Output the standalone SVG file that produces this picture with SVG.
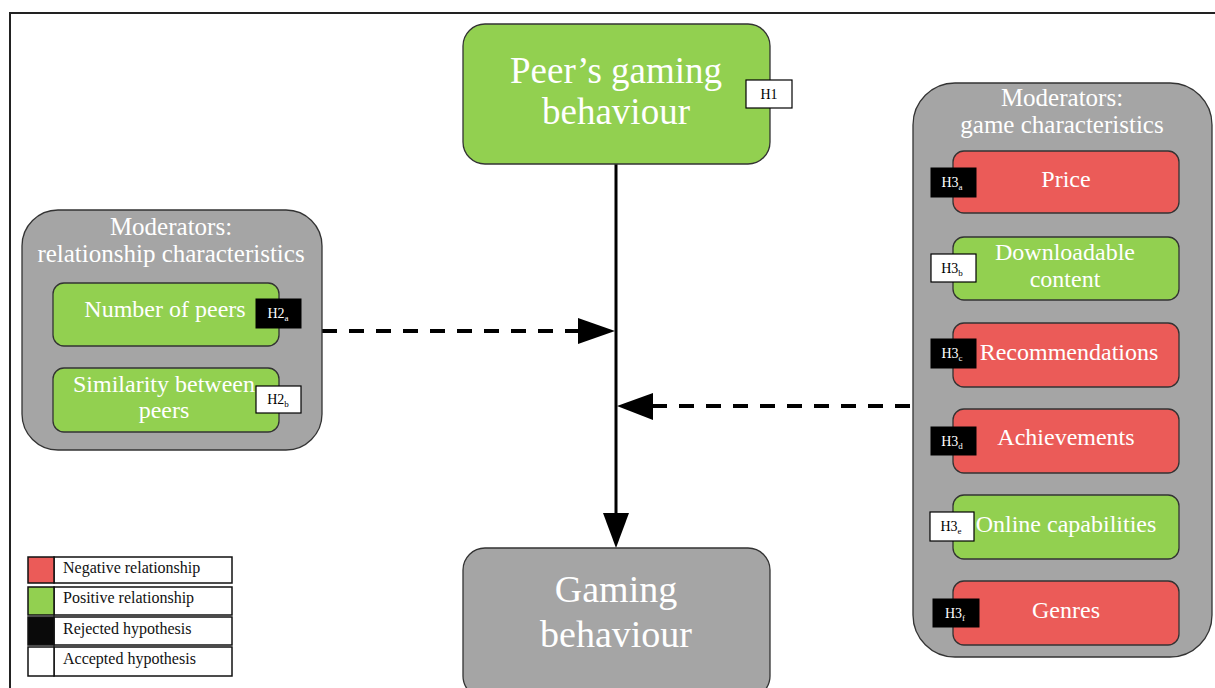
<svg xmlns="http://www.w3.org/2000/svg" width="1215" height="688" viewBox="0 0 1215 688">
<style>
text{font-family:"Liberation Serif","DejaVu Serif",serif}
.grn{fill:#92d050;stroke:#333;stroke-width:1.3}
.red{fill:#eb5b58;stroke:#333;stroke-width:1.3}
.gry{fill:#a5a5a5;stroke:#333;stroke-width:1.3}
.wt{fill:#fff;text-anchor:middle}
.n{font-size:24px}
.big{font-size:37px}
.ttl{font-size:25px}
.hb{fill:#000;stroke:#000;stroke-width:1}
.hw{fill:#fff;stroke:#000;stroke-width:1.2}
.hbt{fill:#fff;font-size:14px;text-anchor:middle}
.hwt{fill:#000;font-size:14px;text-anchor:middle}
.sub{font-size:9px}
.lg{fill:#fff;stroke:#111;stroke-width:1.5}
.lgt{font-size:16px;fill:#111}
.dash{stroke:#000;stroke-width:4;stroke-dasharray:15 12;fill:none}
</style>
<rect x="0" y="0" width="1215" height="688" fill="#fff"/>
<g id="frame" stroke="#222" stroke-width="2" fill="none">
<line x1="9" y1="13" x2="1215" y2="13"/>
<line x1="10" y1="13" x2="10" y2="688"/>
</g>
<g id="connectors">
<line x1="616" y1="164" x2="616" y2="515" stroke="#000" stroke-width="3"/>
<polygon points="603,513 629,513 616,548" fill="#000"/>
<line class="dash" x1="322" y1="331" x2="580" y2="331"/>
<polygon points="578,318 578,344 615,331" fill="#000"/>
<line class="dash" x1="910" y1="406" x2="651" y2="406"/>
<polygon points="653,393 653,420 617,406" fill="#000"/>
</g>
<g id="peer">
<rect class="grn" x="463" y="24" width="307" height="140" rx="22"/>
<text class="wt big" x="616" y="83">Peer’s gaming</text>
<text class="wt big" x="616" y="124">behaviour</text>
<rect class="hw" x="746" y="80" width="46" height="28"/>
<text class="hwt" x="769" y="99">H1</text>
</g>
<g id="gaming">
<rect class="gry" x="463" y="548" width="307" height="150" rx="22"/>
<text class="wt" style="font-size:38px" x="616" y="602">Gaming</text>
<text class="wt" style="font-size:38px" x="616" y="647">behaviour</text>
</g>
<g id="relationship">
<rect class="gry" x="22" y="210" width="300" height="240" rx="36"/>
<text class="wt ttl" x="171" y="235">Moderators:</text>
<text class="wt ttl" x="171" y="262">relationship characteristics</text>
</g>
<g id="numpeers">
<rect class="grn" x="53" y="283" width="226" height="63" rx="11"/>
<text class="wt n" x="165" y="317">Number of peers</text>
<rect class="hb" x="256" y="299" width="45" height="29"/>
<text class="hbt" x="278" y="318">H2<tspan class="sub" dy="3">a</tspan></text>
</g>
<g id="similarity">
<rect class="grn" x="53" y="368" width="226" height="64" rx="11"/>
<text class="wt n" x="164" y="392">Similarity between</text>
<text class="wt n" x="164" y="418">peers</text>
<rect class="hw" x="256" y="386" width="45" height="27"/>
<text class="hwt" x="278" y="404">H2<tspan class="sub" dy="3">b</tspan></text>
</g>
<g id="game">
<rect class="gry" x="913" y="83" width="299" height="574" rx="42"/>
<text class="wt ttl" x="1062" y="106">Moderators:</text>
<text class="wt ttl" x="1062" y="133">game characteristics</text>
</g>
<g id="price">
<rect class="red" x="953" y="151" width="226" height="62" rx="11"/>
<text class="wt n" x="1066" y="187">Price</text>
<rect class="hb" x="931" y="168" width="45" height="29"/>
<text class="hbt" x="952" y="187">H3<tspan class="sub" dy="3">a</tspan></text>
</g>
<g id="dlc">
<rect class="grn" x="953" y="237" width="226" height="63" rx="11"/>
<text class="wt n" x="1065" y="260">Downloadable</text>
<text class="wt n" x="1065" y="287">content</text>
<rect class="hw" x="931" y="254" width="45" height="28"/>
<text class="hwt" x="952" y="273">H3<tspan class="sub" dy="3">b</tspan></text>
</g>
<g id="recommendations">
<rect class="red" x="953" y="323" width="226" height="64" rx="11"/>
<text class="wt n" x="1069" y="360">Recommendations</text>
<rect class="hb" x="931" y="339" width="45" height="29"/>
<text class="hbt" x="952" y="358">H3<tspan class="sub" dy="3">c</tspan></text>
</g>
<g id="achievements">
<rect class="red" x="953" y="409" width="226" height="64" rx="11"/>
<text class="wt n" x="1066" y="445">Achievements</text>
<rect class="hb" x="931" y="427" width="45" height="28"/>
<text class="hbt" x="952" y="446">H3<tspan class="sub" dy="3">d</tspan></text>
</g>
<g id="online">
<rect class="grn" x="953" y="495" width="226" height="64" rx="11"/>
<text class="wt n" x="1066" y="532">Online capabilities</text>
<rect class="hw" x="930" y="512" width="44" height="29"/>
<text class="hwt" x="951" y="531">H3<tspan class="sub" dy="3">e</tspan></text>
</g>
<g id="genres">
<rect class="red" x="953" y="581" width="226" height="64" rx="11"/>
<text class="wt n" x="1066" y="618">Genres</text>
<rect class="hb" x="933" y="599" width="46" height="28"/>
<text class="hbt" x="955" y="618">H3<tspan class="sub" dy="3">f</tspan></text>
</g>
<g id="legend">
<rect class="lg" x="54" y="557" width="178" height="26"/>
<rect x="28" y="557" width="26" height="26" fill="#eb5b58" stroke="#111" stroke-width="1.5"/>
<text class="lgt" x="63" y="573">Negative relationship</text>
<rect class="lg" x="54" y="587" width="178" height="28"/>
<rect x="28" y="587" width="26" height="28" fill="#92d050" stroke="#111" stroke-width="1.5"/>
<text class="lgt" x="63" y="603">Positive relationship</text>
<rect class="lg" x="54" y="617" width="178" height="28"/>
<rect x="28" y="617" width="26" height="28" fill="#0a0a0a" stroke="#111" stroke-width="1.5"/>
<text class="lgt" x="63" y="634">Rejected hypothesis</text>
<rect class="lg" x="54" y="647" width="178" height="29"/>
<rect x="28" y="647" width="26" height="29" fill="#fff" stroke="#111" stroke-width="1.5"/>
<text class="lgt" x="63" y="664">Accepted hypothesis</text>
</g>
</svg>
